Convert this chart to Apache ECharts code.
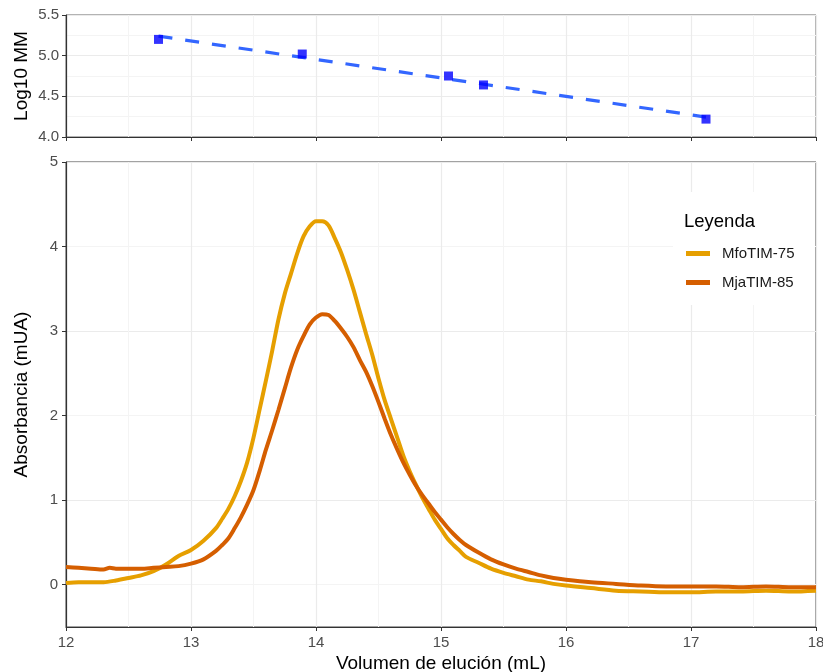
<!DOCTYPE html>
<html>
<head>
<meta charset="utf-8">
<script src="https://cdn.jsdelivr.net/npm/echarts@6/dist/echarts.min.js"></script>
<style>html,body{margin:0;padding:0;background:#fff}#c{width:823px;height:672px}</style>
</head>
<body>
<div id="c"></div>
<script>
// Calibration standards (top panel)
var stdVolume = [12.74, 13.89, 15.06, 15.34, 17.12];
var stdLogMM = [5.20, 5.02, 4.75, 4.64, 4.22];
// Fitted line endpoints
var fitVolume = [12.74, 17.12];
var fitLogMM = [5.24, 4.245];

// Chromatograms (bottom panel)
var mfoVolume = [12.0,12.1,12.2,12.3,12.4,12.5,12.6,12.7,12.8,12.9,13.0,13.1,13.2,13.25,13.3,13.35,13.4,13.45,13.5,13.55,13.6,13.65,13.7,13.75,13.8,13.85,13.9,13.95,14.0,14.05,14.1,14.15,14.2,14.25,14.3,14.35,14.4,14.45,14.5,14.55,14.6,14.65,14.7,14.75,14.8,14.85,14.9,14.95,15.0,15.05,15.1,15.15,15.2,15.3,15.4,15.5,15.6,15.7,15.8,15.9,16.0,16.2,16.4,16.6,16.8,17.0,17.2,17.4,17.6,17.8,18.0];
var mfoAbs = [0.02,0.03,0.03,0.03,0.05,0.08,0.11,0.16,0.24,0.34,0.41,0.52,0.67,0.78,0.90,1.05,1.23,1.45,1.74,2.08,2.42,2.77,3.14,3.44,3.68,3.92,4.12,4.24,4.30,4.30,4.25,4.10,3.93,3.72,3.49,3.23,2.97,2.72,2.44,2.18,1.96,1.74,1.52,1.34,1.18,1.03,0.90,0.77,0.66,0.55,0.47,0.40,0.33,0.26,0.19,0.14,0.10,0.06,0.04,0.01,-0.01,-0.04,-0.07,-0.08,-0.09,-0.09,-0.08,-0.08,-0.07,-0.08,-0.07];
var mjaVolume = [12.0,12.1,12.2,12.3,12.35,12.4,12.5,12.6,12.7,12.8,12.9,13.0,13.1,13.2,13.25,13.3,13.35,13.4,13.45,13.5,13.55,13.6,13.65,13.7,13.75,13.8,13.85,13.9,13.95,14.0,14.05,14.1,14.15,14.2,14.25,14.3,14.35,14.4,14.45,14.5,14.55,14.6,14.65,14.7,14.75,14.8,14.85,14.9,14.95,15.0,15.05,15.1,15.15,15.2,15.3,15.4,15.5,15.6,15.7,15.8,15.9,16.0,16.2,16.4,16.6,16.8,17.0,17.2,17.4,17.6,17.8,18.0];
var mjaAbs = [0.21,0.20,0.19,0.18,0.20,0.19,0.19,0.19,0.20,0.21,0.22,0.25,0.30,0.40,0.47,0.55,0.67,0.80,0.95,1.12,1.35,1.60,1.83,2.07,2.32,2.57,2.78,2.94,3.08,3.16,3.20,3.19,3.12,3.03,2.93,2.81,2.66,2.52,2.35,2.16,1.96,1.77,1.60,1.44,1.30,1.17,1.06,0.96,0.86,0.77,0.68,0.60,0.53,0.47,0.38,0.30,0.24,0.19,0.15,0.11,0.08,0.06,0.03,0.01,-0.01,-0.02,-0.02,-0.02,-0.03,-0.02,-0.03,-0.03];

var seriesNames = ['MfoTIM-75', 'MjaTIM-85'];
var xTicks = [12, 13, 14, 15, 16, 17, 18];
var yTicksBottom = [0, 1, 2, 3, 4, 5];

function zip(a, b) { return a.map(function (v, i) { return [v, b[i]]; }); }

var FONT = 'Liberation Sans, Arial, sans-serif';
var MAJ = '#ebebeb', MIN = '#f4f4f4';
var labelStyle = { color: '#4d4d4d', fontSize: 15, fontFamily: FONT };
var nameStyle = { color: '#000', fontSize: 19, fontFamily: FONT };

var chart = echarts.init(document.getElementById('c'), null, { renderer: 'canvas' });
chart.setOption({
  animation: false,
  backgroundColor: '#fff',
  title: {
    text: 'Leyenda', left: 679, top: 207,
    textStyle: { fontSize: 18.5, fontWeight: 'normal', color: '#000', fontFamily: FONT },
    z: 10
  },
  graphic: [{
    type: 'rect', shape: { x: 673, y: 192, width: 142, height: 113 },
    style: { fill: '#fff' }, z: 3, silent: true
  }],
  legend: {
    data: seriesNames, orient: 'vertical', left: 681, top: 241,
    itemWidth: 24, itemHeight: 5, itemGap: 14, icon: 'rect',
    textStyle: { fontSize: 15, color: '#1a1a1a', padding: [0, 0, 0, 7], fontFamily: FONT },
    z: 10
  },
  grid: [
    { left: 66, right: 7, top: 15, height: 122, show: true, borderColor: '#666', borderWidth: 1, backgroundColor: 'transparent', outerBoundsMode: 'none', containLabel: false },
    { left: 66, right: 7, top: 162, height: 465, show: true, borderColor: '#444', borderWidth: 1, backgroundColor: 'transparent', outerBoundsMode: 'none', containLabel: false }
  ],
  xAxis: [
    {
      gridIndex: 0, type: 'value', min: 12, max: 18, interval: 1,
      axisLine: { show: true, onZero: false, lineStyle: { color: '#333', width: 1.2 } },
      axisTick: { show: true, length: 4, lineStyle: { color: '#333' } },
      axisLabel: { show: false },
      splitLine: { show: true, lineStyle: { color: MAJ, width: 1.2 } },
      minorTick: { show: false, splitNumber: 2 },
      minorSplitLine: { show: true, lineStyle: { color: MIN, width: 1 } }
    },
    {
      gridIndex: 1, type: 'value', min: 12, max: 18, interval: 1,
      name: 'Volumen de elución (mL)', nameLocation: 'middle', nameGap: 27, nameMoveOverlap: false, nameTextStyle: nameStyle,
      axisLine: { show: true, onZero: false, lineStyle: { color: '#333', width: 1.2 } },
      axisTick: { show: true, length: 4, lineStyle: { color: '#333' } },
      axisLabel: Object.assign({ margin: 8, customValues: xTicks }, labelStyle),
      splitLine: { show: true, lineStyle: { color: MAJ, width: 1.2 } },
      minorTick: { show: false, splitNumber: 2 },
      minorSplitLine: { show: true, lineStyle: { color: MIN, width: 1 } }
    }
  ],
  yAxis: [
    {
      gridIndex: 0, type: 'value', min: 4, max: 5.5, interval: 0.5,
      name: 'Log10 MM', nameLocation: 'middle', nameGap: 35, nameMoveOverlap: false, nameTextStyle: nameStyle,
      axisLine: { show: true, onZero: false, lineStyle: { color: '#333', width: 1.2 } },
      axisTick: { show: true, length: 4, lineStyle: { color: '#333' } },
      axisLabel: Object.assign({ margin: 7, formatter: function (v) { return v.toFixed(1); } }, labelStyle),
      splitLine: { show: true, lineStyle: { color: MAJ, width: 1.2 } },
      minorTick: { show: false, splitNumber: 2 },
      minorSplitLine: { show: true, lineStyle: { color: MIN, width: 1 } }
    },
    {
      gridIndex: 1, type: 'value', min: -0.5, max: 5, interval: 0.5,
      name: 'Absorbancia (mUA)', nameLocation: 'middle', nameGap: 35, nameMoveOverlap: false, nameTextStyle: nameStyle,
      axisLine: { show: true, onZero: false, lineStyle: { color: '#333', width: 1.2 } },
      axisTick: { show: true, length: 4, customValues: yTicksBottom, lineStyle: { color: '#333' } },
      axisLabel: Object.assign({ margin: 8, customValues: yTicksBottom }, labelStyle),
      splitLine: { show: true, lineStyle: { color: [MIN, MAJ], width: 1.2 } }
    }
  ],
  series: [
    {
      type: 'line', xAxisIndex: 0, yAxisIndex: 0, data: zip(fitVolume, fitLogMM),
      showSymbol: false, symbol: 'none', z: 3,
      lineStyle: { color: '#3366FF', width: 3.2, type: [14, 13] }, silent: true
    },
    {
      type: 'scatter', xAxisIndex: 0, yAxisIndex: 0, data: zip(stdVolume, stdLogMM),
      symbol: 'rect', symbolSize: 9, itemStyle: { color: '#0000FF' }, z: 4
    },
    {
      name: seriesNames[0], type: 'line', xAxisIndex: 1, yAxisIndex: 1, data: zip(mfoVolume, mfoAbs),
      showSymbol: false, symbol: 'none', smooth: 0.3, z: 2,
      lineStyle: { color: '#E69F00', width: 4 }, itemStyle: { color: '#E69F00' }
    },
    {
      name: seriesNames[1], type: 'line', xAxisIndex: 1, yAxisIndex: 1, data: zip(mjaVolume, mjaAbs),
      showSymbol: false, symbol: 'none', smooth: 0.3, z: 2,
      lineStyle: { color: '#D55E00', width: 4 }, itemStyle: { color: '#D55E00' }
    }
  ]
});
</script>
</body>
</html>
